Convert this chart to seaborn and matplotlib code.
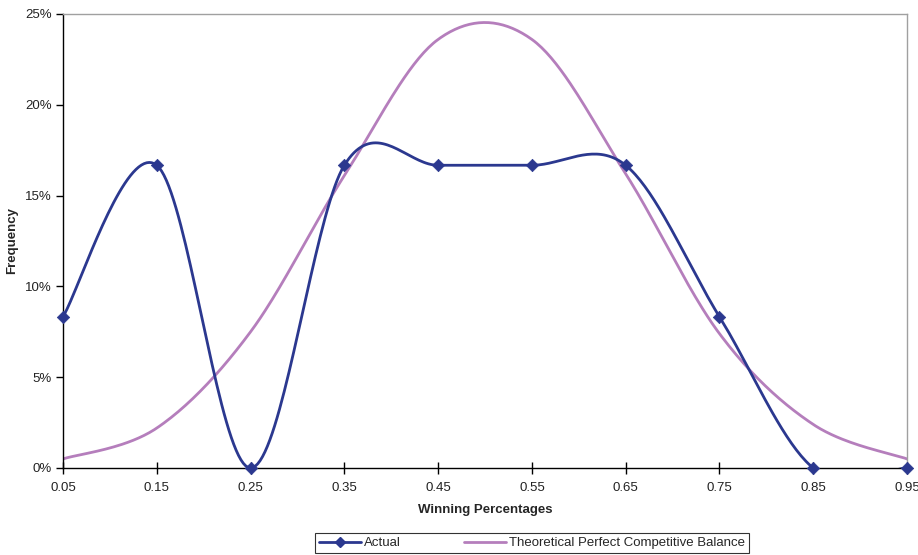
import numpy as np
import pandas as pd
import matplotlib
matplotlib.use("Agg")
import matplotlib.pyplot as plt
from matplotlib.lines import Line2D
from matplotlib.ticker import FuncFormatter
import seaborn as sns

# ---- data ----
win_pct = [0.05, 0.15, 0.25, 0.35, 0.45, 0.55, 0.65, 0.75, 0.85, 0.95]
tick_labels = ["0.05", "0.15", "0.25", "0.35", "0.45", "0.55", "0.65", "0.75", "0.85", "0.95"]
actual = [0.0833, 0.1667, 0.0, 0.1667, 0.1667, 0.1667, 0.1667, 0.0833, 0.0, 0.0]
theoretical = [0.005, 0.022, 0.075, 0.161, 0.236, 0.236, 0.162, 0.074, 0.024, 0.005]

BLUE = "#2B388F"
PURPLE = "#B57EBC"


def excel_smooth(xs, ys, n=40):
    """Catmull-Rom style Bezier smoothing similar to Excel's smoothed lines."""
    xs = np.asarray(xs, float)
    ys = np.asarray(ys, float)
    pts = np.column_stack([xs, ys])
    out = []
    m = len(pts)
    for i in range(m - 1):
        p0 = pts[i - 1] if i > 0 else pts[i]
        p1 = pts[i]
        p2 = pts[i + 1]
        p3 = pts[i + 2] if i + 2 < m else pts[i + 1]
        c1 = p1 + (p2 - p0) / 6.0
        c2 = p2 - (p3 - p1) / 6.0
        t = np.linspace(0, 1, n)[:, None]
        seg = ((1 - t) ** 3) * p1 + 3 * ((1 - t) ** 2) * t * c1 + 3 * (1 - t) * t ** 2 * c2 + t ** 3 * p2
        if i > 0:
            seg = seg[1:]
        out.append(seg)
    out = np.vstack(out)
    return out[:, 0], out[:, 1]


sns.set_theme(style="white")
plt.rcParams["font.family"] = ["Liberation Sans", "DejaVu Sans"]

fig = plt.figure(figsize=(9.18, 5.55), dpi=100)
ax = fig.add_axes([63 / 918, 1 - 468 / 555, (907 - 63) / 918, (468 - 14) / 555])

ax_x, ax_y = excel_smooth(win_pct, actual)
th_x, th_y = excel_smooth(win_pct, theoretical)

sns.lineplot(x=th_x, y=th_y, ax=ax, color=PURPLE, lw=2.0, sort=False, estimator=None)
sns.lineplot(x=ax_x, y=ax_y, ax=ax, color=BLUE, lw=2.0, sort=False, estimator=None)
sns.scatterplot(x=win_pct, y=actual, ax=ax, marker="D", s=40, color=BLUE,
                edgecolor=BLUE, linewidth=0.5, zorder=5, clip_on=False)

ax.set_xlim(0.05, 0.95)
ax.set_ylim(0, 0.25)
ax.set_xticks(win_pct)
ax.set_xticklabels(tick_labels)
ax.set_yticks([0, 0.05, 0.10, 0.15, 0.20, 0.25])
ax.yaxis.set_major_formatter(FuncFormatter(lambda v, p: f"{v * 100:.0f}%"))

for s in ["left", "bottom"]:
    ax.spines[s].set_color("black")
    ax.spines[s].set_linewidth(1.0)
for s in ["top", "right"]:
    ax.spines[s].set_color("#A0A0A0")
    ax.spines[s].set_linewidth(1.0)

ax.tick_params(axis="x", direction="inout", length=8, width=1, colors="black",
               labelsize=9.5, labelcolor="#222222", pad=6, bottom=True)
ax.tick_params(axis="y", direction="out", length=5, width=1, colors="black",
               labelsize=9.5, labelcolor="#222222", pad=3, left=True)

ax.set_xlabel("Winning Percentages", fontsize=9.5, fontweight="bold", labelpad=7)
ax.set_ylabel("Frequency", fontsize=9.5, fontweight="bold", labelpad=5)

handles = [
    Line2D([0], [0], color=BLUE, lw=2, marker="D", markersize=5),
    Line2D([0], [0], color=PURPLE, lw=2),
]
leg = fig.legend(handles, ["Actual", "Theoretical Perfect Competitive Balance"],
                 loc="center", bbox_to_anchor=(532 / 918, 1 - 543 / 555), ncol=2,
                 fontsize=9.5, frameon=True, fancybox=False, edgecolor="black",
                 handlelength=3.2, handletextpad=0.2, columnspacing=4.8,
                 borderpad=0.3, borderaxespad=0)
leg.get_frame().set_linewidth(0.8)

fig.savefig("out.png", dpi=100)
